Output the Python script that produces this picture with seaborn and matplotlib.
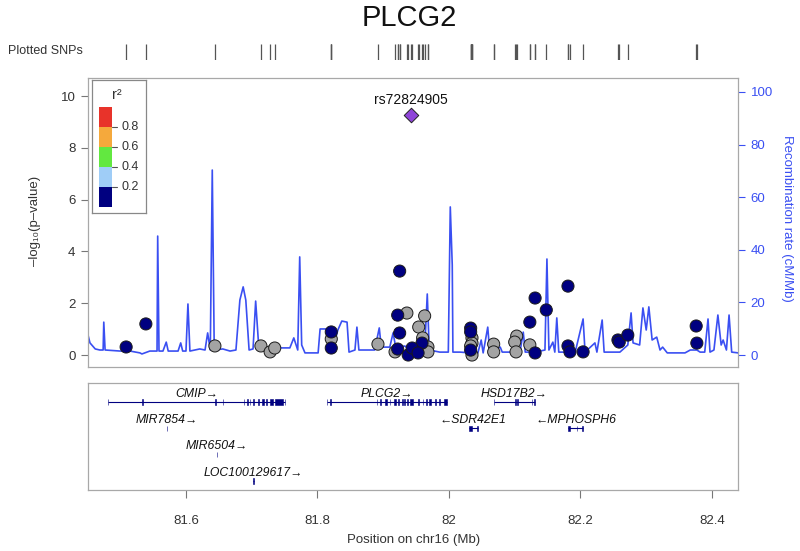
import matplotlib
matplotlib.use("Agg")
import matplotlib.pyplot as plt
import pandas as pd
import seaborn as sns
from matplotlib.patches import Rectangle

W, H = 800, 551

# recombination rate along chr16 (Mb, cM/Mb)
recomb_pos = [
    81.451, 81.454, 81.462, 81.469, 81.474, 81.475, 81.477, 81.500, 81.515, 81.530,
    81.533, 81.545, 81.556, 81.557, 81.559, 81.565, 81.570, 81.573, 81.588, 81.592,
    81.595, 81.600, 81.603, 81.606, 81.621, 81.629, 81.633, 81.637, 81.640, 81.643,
    81.656, 81.667, 81.676, 81.682, 81.687, 81.691, 81.696, 81.702, 81.706, 81.710,
    81.713, 81.735, 81.758, 81.764, 81.770, 81.773, 81.776, 81.781, 81.801, 81.804,
    81.814, 81.819, 81.827, 81.831, 81.837, 81.845, 81.848, 81.857, 81.860, 81.863,
    81.887, 81.894, 81.897, 81.910, 81.915, 81.919, 81.933, 81.941, 81.963, 81.967,
    81.970, 81.986, 81.999, 82.002, 82.005, 82.006, 82.017, 82.032, 82.044, 82.049,
    82.052, 82.059, 82.062, 82.078, 82.081, 82.108, 82.113, 82.116, 82.131, 82.146,
    82.149, 82.152, 82.158, 82.161, 82.164, 82.167, 82.192, 82.204, 82.207, 82.222,
    82.225, 82.233, 82.236, 82.260, 82.272, 82.277, 82.280, 82.290, 82.295, 82.300,
    82.304, 82.309, 82.316, 82.321, 82.325, 82.332, 82.359, 82.367, 82.377, 82.382,
    82.389, 82.394, 82.397, 82.403, 82.409, 82.414, 82.417, 82.422, 82.426, 82.430,
    82.440,
]
recomb_rate = [
    7.6, 4.6, 2.3, 1.9, 1.9, 12.5, 1.9, 1.5, 1.5, 0.8,
    0.4, 1.5, 1.5, 45.2, 1.5, 1.5, 4.9, 1.5, 1.5, 4.6,
    1.5, 1.5, 19.4, 1.5, 2.3, 1.9, 8.4, 1.9, 70.3, 1.9,
    2.3, 1.5, 1.9, 20.9, 25.9, 20.9, 1.9, 2.3, 20.5, 5.7,
    2.3, 2.7, 2.7, 6.5, 1.9, 37.3, 3.8, 0.8, 0.8, 9.9,
    9.9, 5.7, 5.7, 9.5, 12.9, 12.5, 1.1, 1.9, 10.6, 1.9,
    1.9, 10.3, 3.0, 3.0, 8.4, 3.0, 3.4, 1.9, 1.9, 23.2,
    1.9, 1.1, 1.1, 56.3, 34.2, 1.1, 1.1, 0.8, 0.8, 5.7,
    0.8, 10.6, 1.1, 3.0, 1.1, 1.1, 8.7, 1.1, 1.1, 1.9,
    36.5, 1.9, 4.9, 1.1, 14.1, 1.1, 1.1, 13.7, 1.1, 4.6,
    1.1, 13.3, 1.1, 1.1, 3.8, 16.0, 4.6, 3.8, 17.9, 9.5,
    18.3, 5.7, 6.8, 1.9, 3.0, 0.8, 0.8, 1.9, 1.9, 1.1,
    1.1, 13.7, 1.1, 1.9, 15.2, 3.8, 5.7, 1.9, 15.2, 1.1,
    0.8,
]

# SNPs with no LD information (gray)
gray_pos = [81.644, 81.714, 81.728, 81.735, 81.821, 81.892, 81.936, 81.963, 81.954,
            81.918, 81.968, 81.968, 81.960, 82.035, 82.035, 82.035, 82.033, 82.068,
            82.068, 82.103, 82.100, 82.102, 82.123]
gray_logp = [0.35, 0.35, 0.12, 0.27, 0.62, 0.42, 1.62, 1.51, 1.08,
             0.12, 0.31, 0.12, 0.66, 0.66, 0.46, 0.00, 0.35, 0.42,
             0.12, 0.73, 0.50, 0.12, 0.39]

# SNPs with r2 < 0.2 (navy)
low_pos = [81.509, 81.539, 81.821, 81.821, 81.922, 81.925, 81.925, 81.959, 81.922,
           81.938, 81.944, 81.953, 82.033, 82.033, 82.033, 82.123, 82.131, 82.131,
           82.148, 82.181, 82.181, 82.184, 82.204, 82.257, 82.259, 82.272, 82.376,
           82.377]
low_logp = [0.31, 1.20, 0.89, 0.27, 1.54, 3.24, 0.85, 0.46, 0.23,
            0.00, 0.27, 0.08, 1.04, 0.89, 0.19, 1.27, 2.20, 0.08,
            1.74, 2.66, 0.35, 0.12, 0.12, 0.58, 0.50, 0.77, 1.12,
            0.46]

top_snp = "rs72824905"
top_pos = 81.942
top_logp = 9.27

gene_names = ["CMIP", "PLCG2", "HSD17B2", "MIR7854", "SDR42E1", "MPHOSPH6",
              "MIR6504", "LOC100129617"]
gene_start = [81.481, 81.814, 82.068, 81.571, 82.030, 82.181, 81.647, 81.702]
gene_end = [81.751, 81.997, 82.131, 81.5718, 82.044, 82.204, 81.6476, 81.7032]
gene_row = [0, 0, 0, 1, 1, 1, 2, 3]
gene_strand = [1, 1, 1, 1, -1, -1, 1, 1]
cmip_exons = [(81.481, 81.482), (81.533, 81.534), (81.644, 81.645), (81.656, 81.657),
              (81.688, 81.689), (81.693, 81.694), (81.697, 81.698), (81.702, 81.703),
              (81.710, 81.711), (81.716, 81.718), (81.722, 81.723), (81.728, 81.733),
              (81.736, 81.748), (81.750, 81.751)]
plcg2_exons = [(81.814, 81.815), (81.819, 81.820), (81.890, 81.891), (81.895, 81.896),
               (81.903, 81.905), (81.910, 81.911), (81.917, 81.919), (81.922, 81.924),
               (81.928, 81.930), (81.932, 81.933), (81.936, 81.937), (81.941, 81.945),
               (81.953, 81.955), (81.960, 81.961), (81.965, 81.966), (81.969, 81.973),
               (81.979, 81.980), (81.985, 81.986), (81.993, 81.997)]
hsd17b2_exons = [(82.068, 82.069), (82.101, 82.102), (82.104, 82.105), (82.126, 82.127),
                 (82.130, 82.131)]
mir7854_exons = [(81.571, 81.5718)]
sdr42e1_exons = [(82.030, 82.035), (82.043, 82.044)]
mphosph6_exons = [(82.181, 82.184), (82.194, 82.195), (82.203, 82.204)]
mir6504_exons = [(81.647, 81.6476)]
loc_exons = [(81.702, 81.7032)]
gene_exons = [cmip_exons, plcg2_exons, hsd17b2_exons, mir7854_exons, sdr42e1_exons,
              mphosph6_exons, mir6504_exons, loc_exons]

ld_colors = ["#000080", "#9fcdf7", "#62e840", "#f5a93c", "#e8332a"]
ld_breaks = ["0.2", "0.4", "0.6", "0.8"]
x_ticks = [81.6, 81.8, 82.0, 82.2, 82.4]
x_tick_labels = ["81.6", "81.8", "82", "82.2", "82.4"]
y_ticks = [0, 2, 4, 6, 8, 10]
recomb_ticks = [0, 20, 40, 60, 80, 100]

NAVY = "#000080"
BLUE = "#3a4ff2"
BOX = "#a8a8a8"
TXT = "#333333"

sns.set_style("ticks")
plt.rcParams["font.family"] = ["Liberation Sans", "DejaVu Sans"]


def rect(l, t, r, b):
    return [l / W, 1 - b / H, (r - l) / W, (b - t) / H]


fig = plt.figure(figsize=(W / 100, H / 100), dpi=100)
xlim = (81.451, 82.4396)

# rug of plotted SNPs
ax_rug = fig.add_axes(rect(88, 44, 738, 60))
all_pos = gray_pos + low_pos + [top_pos]
ax_rug.vlines(all_pos, 0, 1, color="#555555", lw=0.9)
ax_rug.set_xlim(*xlim)
ax_rug.set_ylim(0, 1)
ax_rug.axis("off")
fig.text(8 / W, 1 - 51 / H, "Plotted SNPs", ha="left", va="center", fontsize=9, color=TXT)
fig.text(409 / W, 1 - 18 / H, "PLCG2", ha="center", va="center", fontsize=21, color="#111111")

# main association panel
ax = fig.add_axes(rect(88, 78, 738, 367))
ax2 = ax.twinx()
ax.set_zorder(ax2.get_zorder() + 1)
ax.patch.set_visible(False)

sns.lineplot(x=recomb_pos, y=recomb_rate, ax=ax2, color=BLUE, lw=1.2,
             estimator=None, sort=False)
ax2.set_ylim(-4.56, 105.3)
ax2.set_yticks(recomb_ticks)
ax2.tick_params(axis="y", colors=BLUE, labelsize=9.5, length=5, width=0.8, pad=4)
for s in ax2.spines.values():
    s.set_visible(False)

df = pd.DataFrame({
    "pos": gray_pos + low_pos,
    "logp": gray_logp + low_logp,
    "ld": ["none"] * len(gray_pos) + ["low"] * len(low_pos),
})
sns.scatterplot(data=df, x="pos", y="logp", hue="ld",
                palette={"none": "#a3a3a3", "low": NAVY}, s=76,
                edgecolor="#1a1a1a", linewidth=0.7, legend=False, ax=ax, zorder=3)
sns.scatterplot(x=[top_pos], y=[top_logp], marker="D", s=55, color="#8f45d9",
                edgecolor="#222222", linewidth=0.7, ax=ax, zorder=4)
ax.text(top_pos, top_logp + 0.58, top_snp, ha="center", va="center", fontsize=10,
        color="#111111")

ax.set_xlim(*xlim)
ax.set_ylim(-0.463, 10.695)
ax.set_xticks([])
ax.set_yticks(y_ticks)
ax.tick_params(axis="y", colors="#777777", labelcolor=TXT, labelsize=9.5, length=5,
               width=0.8, pad=4)
ax.set_xlabel("")
ax.set_ylabel("")
for s in ax.spines.values():
    s.set_color(BOX)
    s.set_linewidth(0.9)
fig.text(35 / W, 1 - 221 / H, "\u2013log\u2081\u2080(p\u2013value)", rotation=90,
         ha="center", va="center", fontsize=9.5, color=TXT)
fig.text(787 / W, 1 - 218 / H, "Recombination rate (cM/Mb)", rotation=270,
         ha="center", va="center", fontsize=9.5, color=BLUE)

# r2 legend
ax_leg = fig.add_axes(rect(92, 80, 146, 213))
ax_leg.set_xlim(0, 54)
ax_leg.set_ylim(133, 0)
ax_leg.set_xticks([])
ax_leg.set_yticks([])
ax_leg.set_facecolor("white")
for s in ax_leg.spines.values():
    s.set_color("#888888")
    s.set_linewidth(0.9)
for i, c in enumerate(ld_colors):
    top = 127 - 20 * i
    ax_leg.add_patch(Rectangle((7, top - 20), 13, 20, facecolor=c, edgecolor="none"))
for i, lab in enumerate(ld_breaks):
    yy = 107 - 20 * i
    ax_leg.plot([20, 25], [yy, yy], color="#555555", lw=0.8)
    ax_leg.text(29, yy, lab, ha="left", va="center", fontsize=9, color=TXT)
ax_leg.text(25, 15, "r\u00b2", ha="center", va="center", fontsize=10.5, color=TXT)

# gene panel
ax_g = fig.add_axes(rect(88, 383, 738, 490))
ax_g.set_xlim(*xlim)
ax_g.set_ylim(3.34, -0.724)
for name, s0, e0, row, strand, exons in zip(gene_names, gene_start, gene_end,
                                            gene_row, gene_strand, gene_exons):
    ax_g.hlines(row, s0, e0, color=NAVY, lw=0.8)
    ax_g.broken_barh([(a, b - a) for a, b in exons], (row - 0.1, 0.2),
                     facecolors=NAVY, edgecolors=NAVY, linewidth=0.4)
    label = name + "\u2192" if strand > 0 else "\u2190" + name
    ax_g.text((s0 + e0) / 2, row - 0.32, label, ha="center", va="center",
              fontsize=8.8, style="italic", color="#111111")
ax_g.set_yticks([])
ax_g.set_xticks(x_ticks)
ax_g.set_xticklabels(x_tick_labels)
ax_g.tick_params(axis="x", colors="#777777", labelcolor=TXT, labelsize=9.5, length=6,
                 width=0.8, pad=12)
for s in ax_g.spines.values():
    s.set_color(BOX)
    s.set_linewidth(0.9)
fig.text(414 / W, 1 - 540 / H, "Position on chr16 (Mb)", ha="center", va="center",
         fontsize=9.5, color=TXT)

fig.savefig("out.png", dpi=100)
